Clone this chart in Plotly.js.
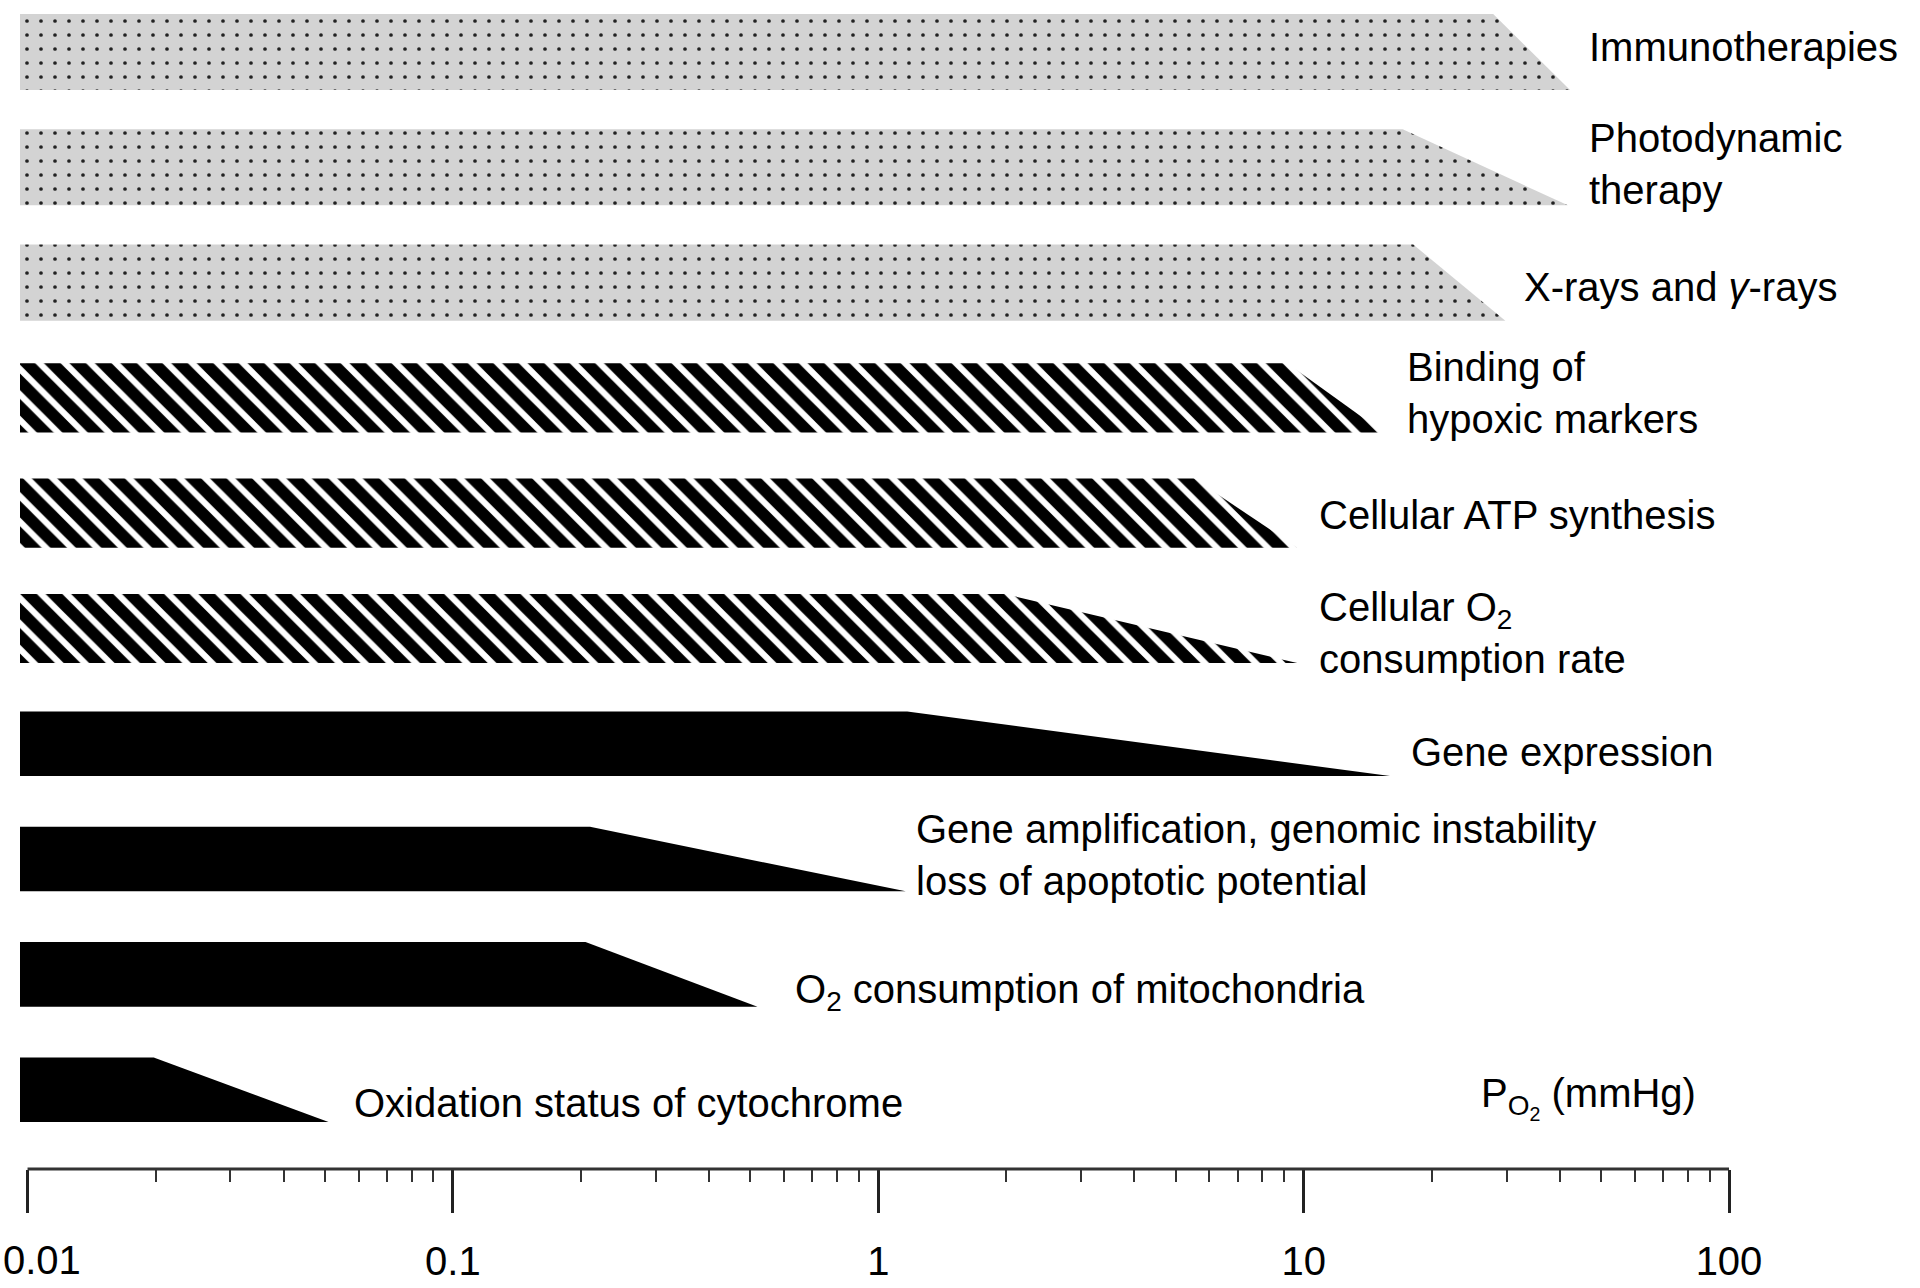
<!DOCTYPE html>
<html>
<head>
<meta charset="utf-8">
<script src="https://cdn.plot.ly/plotly-3.0.1.min.js"></script>
<style>
  html, body { margin: 0; padding: 0; background: #ffffff; }
  #chart { width: 1920px; height: 1288px; }
</style>
</head>
<body>
<div id="chart"></div>
<script>
// ---- data ----
const processes = [
  "Immunotherapies",
  "Photodynamic<br>therapy",
  "X-rays and <i>γ</i>-rays",
  "Binding of<br>hypoxic markers",
  "Cellular ATP synthesis",
  "Cellular O<sub>2</sub><br>consumption rate",
  "Gene expression",
  "Gene amplification, genomic instability<br>loss of apoptotic potential",
  "O<sub>2</sub> consumption of mitochondria",
  "Oxidation status of cytochrome"
];
// pO2 (mmHg) up to which the effect is full
const plateauEnd = [27.9, 17.1, 18.1, 9.15, 5.53, 1.98, 1.17, 0.21, 0.205, 0.0198];
// pO2 (mmHg) at which the effect has faded out
const effectEnd = [42.3, 41.8, 29.8, 15.4, 9.66, 9.66, 15.96, 1.16, 0.52, 0.051];
// group of each process (sets the fill style)
const group = ["therapy", "therapy", "therapy", "cellular", "cellular", "cellular",
               "molecular", "molecular", "molecular", "molecular"];
const pO2Min = 0.0096;
const tickValues = [0.01, 0.1, 1, 10, 100];
const tickLabels = ["0.01", "0.1", "1", "10", "100"];
const minorDigits = [2, 3, 4, 5, 6, 7, 8, 9];
const axisTitle = "P<sub>O<sub>2</sub></sub> (mmHg)";

// ---- styling / layout ----
const FONT = "Liberation Sans, Arial, Helvetica, sans-serif";
const labelXShift = [17, 19, 17, 22, 20, 20, 19, 8, 36, 23];
const labelYShift = [5, 3, -4, 5, -2, -5, -8, 4, -18, -13];

const styles = {
  therapy: {
    half: 0.33,
    fillcolor: "#d3d3d3",
    fillpattern: { shape: ".", bgcolor: "#d3d3d3", fgcolor: "#222222", size: 14, solidity: 0.055 }
  },
  cellular: {
    half: 0.3,
    fillcolor: "#000000",
    fillpattern: { shape: "\\", bgcolor: "#ffffff", fgcolor: "#000000", size: 18, solidity: 0.66 }
  },
  molecular: { half: 0.28, fillcolor: "#000000" }
};

const traces = processes.map((name, i) => {
  const s = styles[group[i]];
  const h = s.half;
  const t = {
    type: "scatter",
    mode: "lines",
    x: [pO2Min, plateauEnd[i], effectEnd[i], pO2Min, pO2Min],
    y: [i - h, i - h, i + h, i + h, i - h],
    fill: "toself",
    fillcolor: s.fillcolor,
    line: { width: 0, color: "rgba(0,0,0,0)" },
    hoverinfo: "skip",
    showlegend: false
  };
  if (s.fillpattern) t.fillpattern = s.fillpattern;
  return t;
});

const minorVals = [];
tickValues.slice(0, -1).forEach(d => minorDigits.forEach(m => minorVals.push(m * d)));

const annotations = processes.map((name, i) => ({
  text: name,
  x: Math.log10(effectEnd[i]),
  y: i,
  xref: "x", yref: "y",
  xanchor: "left", yanchor: "middle", align: "left",
  xshift: labelXShift[i], yshift: labelYShift[i],
  showarrow: false,
  font: { family: FONT, size: 40, color: "#000000" }
}));
annotations.push({
  text: axisTitle,
  x: Math.log10(tickValues[tickValues.length - 1]),
  y: 0,
  xref: "x", yref: "paper",
  xanchor: "right", yanchor: "middle",
  xshift: -31, yshift: 71,
  showarrow: false,
  font: { family: FONT, size: 40, color: "#000000" }
});
// the first tick label sits against the left edge of the figure, so it is left-aligned
annotations.push({
  text: tickLabels[0],
  x: Math.log10(tickValues[0]),
  y: 0,
  xref: "x", yref: "paper",
  xanchor: "left", yanchor: "middle",
  xshift: -27, yshift: -91,
  showarrow: false,
  font: { family: FONT, size: 40, color: "#000000" }
});

const layout = {
  width: 1920, height: 1288,
  margin: { l: 20, r: 191, t: 0, b: 119 },
  paper_bgcolor: "#ffffff", plot_bgcolor: "#ffffff",
  showlegend: false,
  xaxis: {
    type: "log",
    range: [Math.log10(pO2Min), Math.log10(tickValues[tickValues.length - 1])],
    tickmode: "array", tickvals: tickValues,
    ticktext: tickLabels.map((t, k) => (k === 0 ? "" : t)),
    ticks: "outside", ticklen: 43, tickwidth: 3, tickcolor: "#222222",
    ticklabelstandoff: 14,
    tickfont: { family: FONT, size: 40, color: "#000000" },
    minor: { tickmode: "array", tickvals: minorVals, ticks: "outside", ticklen: 12, tickwidth: 2, tickcolor: "#333333", showgrid: false },
    showgrid: false, zeroline: false, showline: false, fixedrange: true
  },
  yaxis: {
    range: [9.688, -0.451],
    visible: false, showgrid: false, zeroline: false, fixedrange: true
  },
  shapes: [{
    type: "line", xref: "x", yref: "paper",
    x0: tickValues[0], x1: tickValues[tickValues.length - 1],
    y0: 0, y1: 0,
    line: { color: "#333333", width: 3 }
  }],
  annotations: annotations
};

Plotly.newPlot("chart", traces, layout, { staticPlot: true, displayModeBar: false });
</script>
</body>
</html>
